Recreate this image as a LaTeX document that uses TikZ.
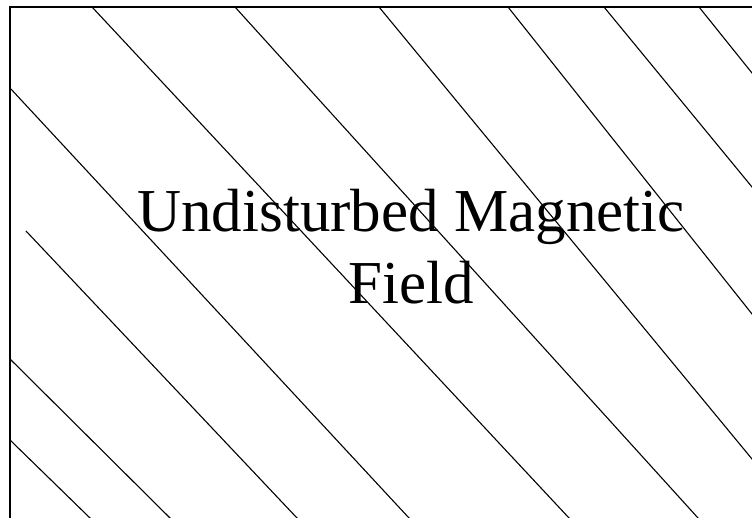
\documentclass[tikz,border=0pt]{standalone}
\usepackage{fontspec}
\setmainfont{Liberation Serif}
\begin{document}
\begin{tikzpicture}[x=1pt,y=-1pt,
  fieldline/.style={line width=1.1pt, black, shorten >=-6pt},
  framebox/.style={line width=1.4pt, black},
  label/.style={font=\fontsize{61}{72}\selectfont, inner sep=0pt, anchor=base}]
\useasboundingbox (0,0) rectangle (752,518);
\clip (0,0) rectangle (752,518);
\fill[white] (0,0) rectangle (752,518);
% field lines
\draw[fieldline] (10,88) -- (409,518);
\draw[fieldline] (26,231) -- (297,518);
\draw[fieldline] (10,359) -- (170,518);
\draw[fieldline] (10,440) -- (90,518);
\draw[fieldline] (92,7) -- (569,518);
\draw[fieldline] (235,7) -- (698,518);
\draw[fieldline] (379,7) -- (752,459);
\draw[fieldline] (508,7) -- (752,314);
\draw[fieldline] (604,7) -- (752,187);
\draw[fieldline] (699,7) -- (752,73);
% frame
\draw[framebox] (10,7) rectangle (800,560);
% label
\node[label] (t1) at (411,232) {Undisturbed Magnetic};
\node[label] (t2) at (411,304) {Field};
\end{tikzpicture}
\end{document}
